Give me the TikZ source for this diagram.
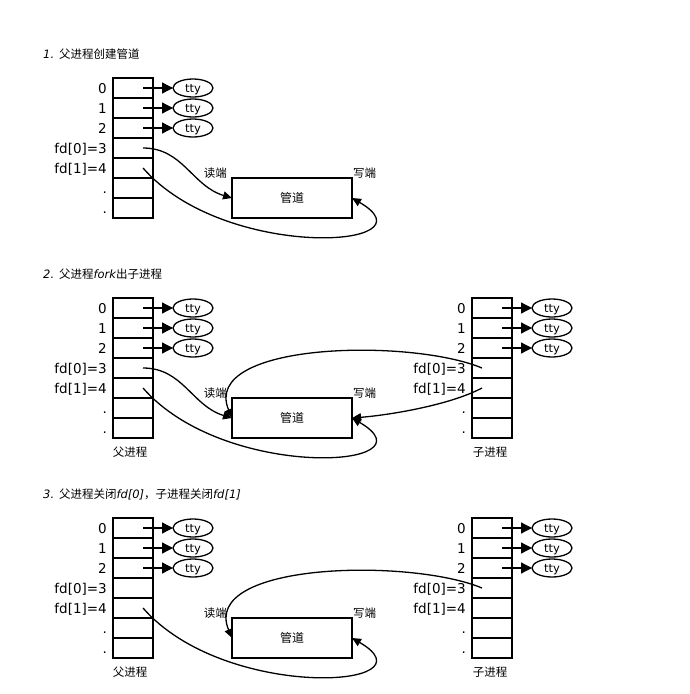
\documentclass[tikz,border=0pt]{standalone}
\usepackage{fontspec}
\setmainfont{DejaVu Sans}
\newfontfamily\zhfont{Noto Sans CJK SC}
\usepackage{tikz}
\usetikzlibrary{arrows.meta,positioning,shapes.geometric,calc}
\tikzset{
  >={Triangle[length=11pt,width=11pt]},
  fdcell/.style={draw,line width=1.6pt,minimum width=40pt,minimum height=20pt,inner sep=0pt,outer sep=0pt},
  fdlabel/.style={anchor=base east,inner sep=0pt,font=\fontsize{13.5}{14}\selectfont},
  ttynode/.style={draw,ellipse,line width=1.3pt,minimum width=40pt,minimum height=18pt,inner sep=0pt,outer sep=0pt,text height=8pt,text depth=0pt,font=\fontsize{11.5}{12}\selectfont},
  pipebox/.style={draw,line width=1.6pt,minimum width=120pt,minimum height=40pt,inner sep=0pt,outer sep=0pt,font=\zhfont\fontsize{12}{13}\selectfont},
  endlabel/.style={inner sep=0pt,font=\zhfont\fontsize{11.5}{12}\selectfont},
  paneltitle/.style={anchor=west,inner sep=0pt,font=\fontsize{11.5}{12}\selectfont},
  ttyflow/.style={->,line width=1.3pt},
  pipeflow/.style={-{Triangle[length=9pt,width=8pt]},line width=1.3pt}
}
% fd table: name prefix, x of centre, y of top
\newcommand{\fdtable}[3]{%
  \foreach \i/\lab in {0/0,1/1,2/2,3/{fd[0]=3},4/{fd[1]=4},5/.,6/.}{
    \node[fdcell] (#1-\i) at (#2,#3+10+20*\i) {};
    \node[fdlabel] (#1-n\i) at ([xshift=-6pt,yshift=-5pt]#1-\i.west) {\lab};
  }
  \foreach \i in {0,1,2}{
    \node[ttynode,right=20pt of #1-\i] (#1-t\i) {tty};
    \draw[ttyflow] ([xshift=10pt]#1-\i.center) -- (#1-t\i);
  }
}

\begin{document}
\begin{tikzpicture}[x=1pt,y=-1pt]
  \useasboundingbox (0,0) rectangle (689,694);

  % 1
  \node[paneltitle] (title1) at (43,54) {{\itshape 1.} \zhfont 父进程创建管道};
  \fdtable{a1}{133}{78}
  \node[pipebox] (pipe1) at (292,198) {管道};
  \node[endlabel,anchor=base east] (rd1) at ([xshift=-5pt,yshift=1pt]pipe1.north west) {读端};
  \node[endlabel,anchor=base west] (wr1) at ([xshift=1pt,yshift=1pt]pipe1.north east) {写端};
  \draw[pipeflow] ([xshift=10pt]a1-3.center) .. controls +(40,0) and +(-40,-12) .. (pipe1.west);
  \draw[pipeflow] ([xshift=10pt]a1-4.center) .. controls +(82,94) and +(86,50) .. (pipe1.east);

  % 2
  \node[paneltitle] (title2) at (43,274) {{\itshape 2.} {\zhfont 父进程}{\itshape fork}{\zhfont 出子进程}};
  \fdtable{a2}{133}{298}
  \fdtable{b2}{492}{298}
  \node[endlabel,below=9pt of a2-6,xshift=-3pt] (pa2) {父进程};
  \node[endlabel,below=9pt of b2-6,xshift=-2pt] (ch2) {子进程};
  \node[pipebox] (pipe2) at (292,418) {管道};
  \node[endlabel,anchor=base east] (rd2) at ([xshift=-5pt,yshift=1pt]pipe2.north west) {读端};
  \node[endlabel,anchor=base west] (wr2) at ([xshift=1pt,yshift=1pt]pipe2.north east) {写端};
  \draw[pipeflow] ([xshift=10pt]a2-3.center) .. controls +(40,0) and +(-40,-12) .. (pipe2.west);
  \draw[pipeflow] ([xshift=10pt]a2-4.center) .. controls +(82,94) and +(86,50) .. (pipe2.east);
  \draw[pipeflow] ([xshift=-10pt]b2-3.center) .. controls +(-72,-30) and +(-32,-76) .. (pipe2.west);
  \draw[pipeflow] ([xshift=-10pt]b2-4.center) .. controls +(-32,17) and +(38,-3) .. (pipe2.east);

  % 3
  \node[paneltitle] (title3) at (43,494) {{\itshape 3.} {\zhfont 父进程关闭}{\itshape fd[0]}{\zhfont ，子进程关闭}{\itshape fd[1]}};
  \fdtable{a3}{133}{518}
  \fdtable{b3}{492}{518}
  \node[endlabel,below=9pt of a3-6,xshift=-3pt] (pa3) {父进程};
  \node[endlabel,below=9pt of b3-6,xshift=-2pt] (ch3) {子进程};
  \node[pipebox] (pipe3) at (292,638) {管道};
  \node[endlabel,anchor=base east] (rd3) at ([xshift=-5pt,yshift=1pt]pipe3.north west) {读端};
  \node[endlabel,anchor=base west] (wr3) at ([xshift=1pt,yshift=1pt]pipe3.north east) {写端};
  \draw[pipeflow] ([xshift=10pt]a3-4.center) .. controls +(82,94) and +(86,50) .. (pipe3.east);
  \draw[pipeflow] ([xshift=-10pt]b3-3.center) .. controls +(-72,-30) and +(-32,-76) .. (pipe3.west);
\end{tikzpicture}
\end{document}
